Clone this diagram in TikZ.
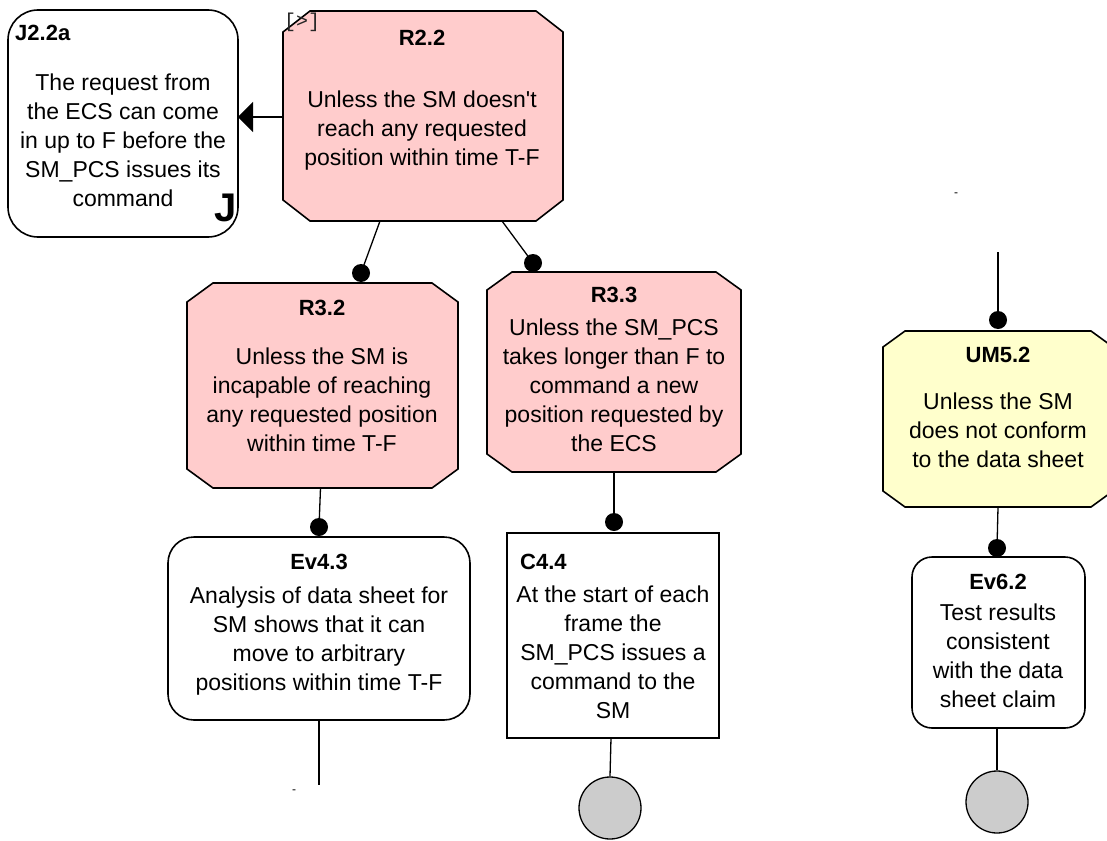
\documentclass[tikz,border=0pt]{standalone}
\usepackage{fontspec}
\setmainfont{Liberation Sans}
\newfontfamily\monofont{Liberation Mono}
\usetikzlibrary{calc,arrows.meta}

\definecolor{reqpink}{HTML}{FFCCCC}
\definecolor{umyellow}{HTML}{FFFFCC}
\definecolor{leafgray}{HTML}{CCCCCC}

\tikzset{
  frame/.style={draw=none, inner sep=0pt, outer sep=0pt},
  outline/.style={draw=black, line width=1.6pt, line join=miter},
  title/.style={font=\bfseries\fontsize{22}{29}\selectfont, inner sep=0pt},
  body/.style={font=\fontsize{23}{29}\selectfont, align=center, inner sep=0pt},
  link/.style={draw=black, line width=1.3pt},
  dot/.style={circle, fill=black, inner sep=0pt, minimum size=18pt},
  leaf/.style={circle, draw=black, line width=1.3pt, fill=leafgray, minimum size=62pt, inner sep=0pt},
  tick/.style={font=\fontsize{12}{12}\selectfont, inner sep=0pt},
}

% octagonal outline around a frame node: #2 = horizontal cut, #3 = vertical cut
\newcommand\chamferoutline[4]{%
  \filldraw[outline, fill=#4]
    ($(#1.north west)+(#2,0)$) -- ($(#1.north east)+(-#2,0)$) --
    ($(#1.north east)+(0,#3)$) -- ($(#1.south east)+(0,-#3)$) --
    ($(#1.south east)+(-#2,0)$) -- ($(#1.south west)+(#2,0)$) --
    ($(#1.south west)+(0,-#3)$) -- ($(#1.north west)+(0,#3)$) -- cycle;}

% rounded outline around a frame node
\newcommand\softoutline[2]{%
  \filldraw[outline, fill=white, rounded corners=#2]
    (#1.north west) rectangle (#1.south east);}

\begin{document}
\begin{tikzpicture}[x=1pt, y=-1pt]
  \clip (0,0) rectangle (1107,840);
  \fill[white] (0,0) rectangle (1107,840);

  % frames
  \node[frame, minimum width=230pt, minimum height=227pt] (j22)  at (123,123.5) {};
  \node[frame, minimum width=280pt, minimum height=210pt] (r22)  at (423,116) {};
  \node[frame, minimum width=271pt, minimum height=205pt] (r32)  at (322.5,385.5) {};
  \node[frame, minimum width=254pt, minimum height=200pt] (r33)  at (614,372) {};
  \node[frame, minimum width=302pt, minimum height=183pt] (ev43) at (319,628.5) {};
  \node[frame, minimum width=212pt, minimum height=205pt] (c44)  at (613,635.5) {};
  \node[frame, minimum width=230pt, minimum height=176pt] (um52) at (998,419) {};
  \node[frame, minimum width=173pt, minimum height=171pt] (ev62) at (998.5,642.5) {};

  % outlines
  \softoutline{j22}{30pt}
  \chamferoutline{r22}{27}{21}{reqpink}
  \chamferoutline{r32}{26}{19}{reqpink}
  \chamferoutline{r33}{25}{18}{reqpink}
  \softoutline{ev43}{26pt}
  \filldraw[outline, fill=white] (c44.north west) rectangle (c44.south east);
  \chamferoutline{um52}{22}{16}{umyellow}
  \softoutline{ev62}{20pt}

  % J2.2a
  \node[title, anchor=west] (j22t) at (15,33) {J2.2a};
  \node[body] (j22b) at (123,140) {The request from\\the ECS can come\\in up to F before the\\SM\_PCS issues its\\command};
  \node[font=\bfseries\fontsize{40}{40}\selectfont, inner sep=0pt] (j22j) at (226,208) {J};

  % R2.2
  \node[font=\monofont\fontsize{20}{20}\selectfont, text=black!85, inner sep=0pt] (r22m) at (302,22) {[>]};
  \node[title] (r22t) at (422,38) {R2.2};
  \node[body] (r22b) at (422,131) {Unless the SM doesn\textquotesingle t\\reach any requested\\position within time T-F};

  % R3.2
  \node[title] (r32t) at (322,308) {R3.2};
  \node[body] (r32b) at (322,400) {Unless the SM is\\incapable of reaching\\any requested position\\within time T-F};

  % R3.3
  \node[title] (r33t) at (614,295) {R3.3};
  \node[body] (r33b) at (614,385) {Unless the SM\_PCS\\takes longer than F to\\command a new\\position requested by\\the ECS};

  % Ev4.3
  \node[title] (ev43t) at (319,562) {Ev4.3};
  \node[body] (ev43b) at (319,641) {Analysis of data sheet for\\SM shows that it can\\move to arbitrary\\positions within time T-F};

  % C4.4
  \node[title, anchor=west] (c44t) at (520,562) {C4.4};
  \node[body] (c44b) at (613,652) {At the start of each\\frame the\\SM\_PCS issues a\\command to the\\SM};

  % UM5.2
  \node[title] (um52t) at (998,355) {UM5.2};
  \node[body] (um52b) at (998,430) {Unless the SM\\does not conform\\to the data sheet};

  % Ev6.2
  \node[title] (ev62t) at (998,582) {Ev6.2};
  \node[body] (ev62b) at (998,656) {Test results\\consistent\\with the data\\sheet claim};

  % small ticks
  \node[tick] (m1) at (956,195) {-};
  \node[tick] (m2) at (294,792) {-};

  % connection dots and leaf circles
  \node[dot] (d1) at (361,273) {};
  \node[dot] (d2) at (533,263) {};
  \node[dot] (d3) at (319,527) {};
  \node[dot] (d4) at (614,522) {};
  \node[dot] (d5) at (998,320) {};
  \node[dot] (d6) at (997,548) {};
  \node[leaf] (l1) at (610,808) {};
  \node[leaf] (l2) at (997,802) {};
  \coordinate (top5) at (998,252);
  \coordinate (end43) at (319,785);

  % connectors
  \draw[link, -{Triangle[length=15pt, width=30pt]}] (r22.west |- 0,117) -- (j22.east |- 0,117);
  \draw[link] ([xshift=-43pt]r22.south) -- (d1.center);
  \draw[link] ([xshift=79pt]r22.south) -- (d2.center);
  \draw[link] ([xshift=-2pt]r32.south) -- (d3.center);
  \draw[link] (r33.south) -- (d4.center);
  \draw[link] (top5) -- (d5.center);
  \draw[link] (um52.south) -- (d6.center);
  \draw[link] (ev43.south) -- (end43);
  \draw[link] ([xshift=-2pt]c44.south) -- (l1.north);
  \draw[link] ([xshift=-1.5pt]ev62.south) -- (l2.north);
\end{tikzpicture}
\end{document}
